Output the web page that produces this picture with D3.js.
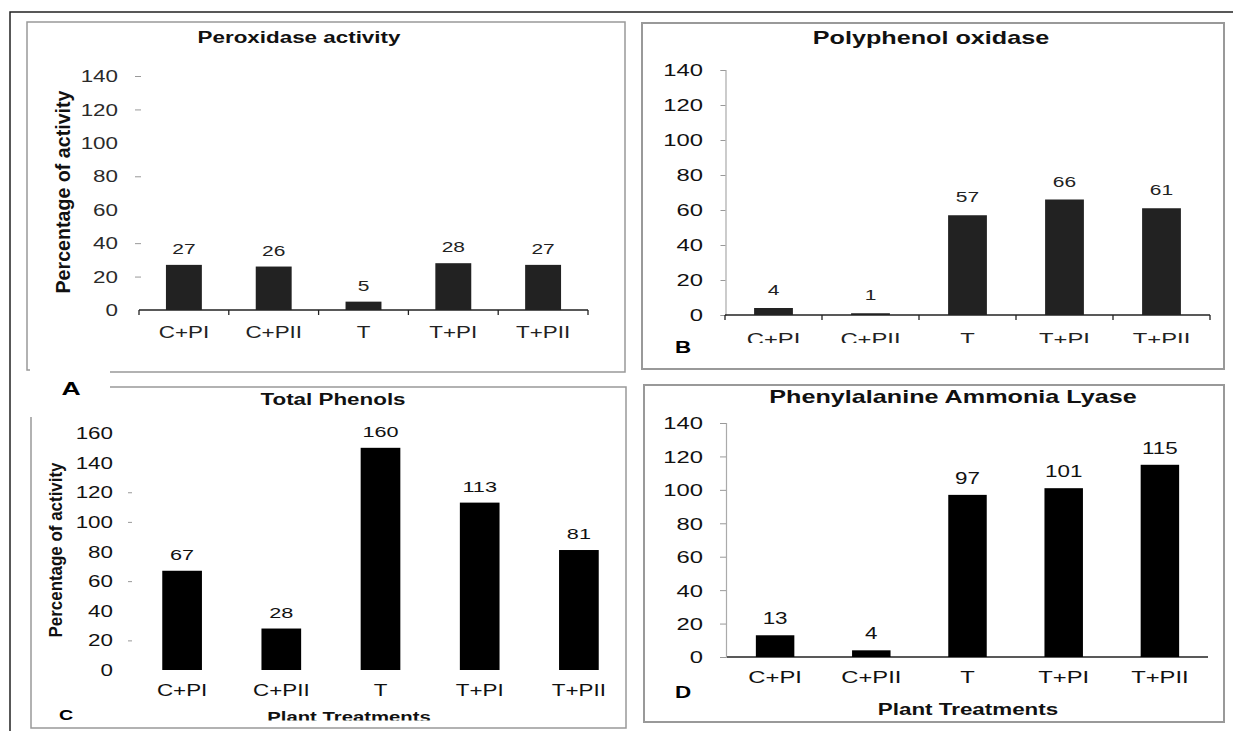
<!DOCTYPE html>
<html>
<head>
<meta charset="utf-8">
<script src="https://cdn.jsdelivr.net/npm/d3@7"></script>
<style>
  body { margin: 0; background: #fff; }
  svg { display: block; }
  text { font-family: "Liberation Sans", Arial, sans-serif; }
</style>
</head>
<body>
<svg id="chart" width="1233" height="731"></svg>
<script>
// ---- data ----
const categories = ['C+PI', 'C+PII', 'T', 'T+PI', 'T+PII'];
const peroxidase = [27, 26, 5, 28, 27];
const polyphenol = [4, 1, 57, 66, 61];
const phenols = [67, 28, 150, 113, 81];          // bar heights as drawn
const phenolLabels = ['67', '28', '160', '113', '81']; // printed values
const pal = [13, 4, 97, 101, 115];
const ticks140 = [0, 20, 40, 60, 80, 100, 120, 140];
const ticks160 = [0, 20, 40, 60, 80, 100, 120, 140, 160];
const dashA = [20, 40, 80, 120, 140];   // ticks that show a dash in panel A
const dashC = [20, 60, 100, 120];       // same for panel C

const K = 1.4; // the scanned figure is stretched sideways, text included
const svg = d3.select('#chart');

// text helper: anchor point, then sideways stretch
function label(g, x, y, str, size, opts = {}) {
    return g.append('text')
        .attr('transform', `translate(${x},${y}) scale(${K},1)` + (opts.rotate ? ' rotate(-90)' : ''))
        .attr('text-anchor', opts.anchor || 'middle')
        .attr('font-size', size)
        .attr('font-weight', opts.bold ? 'bold' : null)
        .attr('fill', opts.color || '#111')
        .text(str);
}

// ---- frames ----
svg.append('path').attr('d', 'M10,731V12H1233')
    .attr('fill', 'none').attr('stroke', '#222').attr('stroke-width', 1.5);
svg.append('path').attr('d', 'M110,372H625V22H27V370H30')
    .attr('fill', 'none').attr('stroke', '#999').attr('stroke-width', 1.5);
svg.append('path').attr('d', 'M110,387H626V728H31V417')
    .attr('fill', 'none').attr('stroke', '#999').attr('stroke-width', 1.5);
svg.append('rect').attr('x', 642).attr('y', 23).attr('width', 582).attr('height', 346)
    .attr('fill', 'none').attr('stroke', '#999').attr('stroke-width', 2);
svg.append('rect').attr('x', 644).attr('y', 385).attr('width', 580).attr('height', 337)
    .attr('fill', 'none').attr('stroke', '#999').attr('stroke-width', 2);

// clip regions (page coordinates, used on untransformed groups)
const defs = svg.append('defs');
defs.append('clipPath').attr('id', 'clipB').append('rect')
    .attr('x', 640).attr('y', 0).attr('width', 593).attr('height', 343);
defs.append('clipPath').attr('id', 'clipC').append('rect')
    .attr('x', 30).attr('y', 380).attr('width', 600).attr('height', 340.5);

// ---- panel layouts ----
const panels = [
    {
        values: peroxidase, labels: peroxidase.map(String), max: 140, ticks: ticks140, dash: dashA,
        xr: [139, 588], yr: [310, 76], axisX: 141, tickLen: 6, tickOff: 23, yLine: false,
        tickFont: 16, tickColor: '#2a2a2a', xAxis: 'ticked', xLabelOff: 28, xFont: 16,
        valFont: 15, valOff: 11, barColor: '#222', textColor: '#222',
        title: 'Peroxidase activity', titleX: 299, titleY: 43, titleSize: 16,
        letter: 'A', letterX: 71, letterY: 395, letterSize: 19,
        ylabel: { text: 'Percentage of  activity', x: 63, y: 192, size: 15, len: 203 }
    },
    {
        values: polyphenol, labels: polyphenol.map(String), max: 140, ticks: ticks140, dash: null,
        xr: [725, 1210], yr: [315, 70], axisX: 725.5, tickLen: 5, tickOff: 22.5, yLine: true,
        tickFont: 17, tickColor: '#111', xAxis: 'ticked', xLabelOff: 30, xFont: 17, clip: 'clipB',
        valFont: 15, valOff: 13, barColor: '#222', textColor: '#222',
        title: 'Polyphenol oxidase', titleX: 931, titleY: 44, titleSize: 18,
        letter: 'B', letterX: 683, letterY: 353, letterSize: 16
    },
    {
        values: phenols, labels: phenolLabels, max: 160, ticks: ticks160, dash: dashC,
        xr: [132.5, 628.5], yr: [670, 433], axisX: 132, tickLen: 4, tickOff: 19, yLine: false,
        tickFont: 16, tickColor: '#111', xAxis: 'none', xLabelOff: 26, xFont: 16,
        valFont: 15.5, valOff: 11, barColor: '#000', textColor: '#111',
        title: 'Total Phenols', titleX: 333, titleY: 405, titleSize: 16,
        letter: 'C', letterX: 66, letterY: 720, letterSize: 14,
        xtitle: { text: 'Plant Treatments', x: 349, y: 722, size: 14.5, clip: 'clipC' },
        ylabel: { text: 'Percentage of activity', x: 55, y: 550, size: 13.5, len: 175 }
    },
    {
        values: pal, labels: pal.map(String), max: 140, ticks: ticks140, dash: null,
        xr: [727, 1208], yr: [657, 423], axisX: 726, tickLen: 6, tickOff: 23, yLine: true,
        tickFont: 17, tickColor: '#111', xAxis: 'plain', xLabelOff: 26, xFont: 17,
        valFont: 16, valOff: 11, barColor: '#000', textColor: '#111',
        title: 'Phenylalanine Ammonia Lyase', titleX: 953, titleY: 403, titleSize: 18,
        letter: 'D', letterX: 683, letterY: 698, letterSize: 16,
        xtitle: { text: 'Plant Treatments', x: 968, y: 715, size: 16 }
    }
];

panels.forEach(drawPanel);

function drawPanel(p) {
    const g = svg.append('g');

    const x = d3.scaleBand().domain(categories).range(p.xr)
        .paddingInner(0.6).paddingOuter(0.3);
    const y = d3.scaleLinear().domain([0, p.max]).range(p.yr);
    const base = y(0);

    // y axis
    const yAxis = g.append('g')
        .attr('transform', `translate(${p.axisX},0)`)
        .call(d3.axisLeft(y).tickValues(p.ticks).tickSize(p.tickLen).tickPadding(0));
    yAxis.select('.domain').attr('stroke', '#aaa').attr('stroke-width', 1.2)
        .attr('display', p.yLine ? null : 'none');
    yAxis.selectAll('.tick line').attr('stroke', '#999')
        .attr('display', d => (!p.dash || p.dash.includes(d)) ? null : 'none');
    yAxis.selectAll('.tick text')
        .attr('x', 0).attr('dy', '0.35em')
        .attr('transform', `translate(${-p.tickOff},0) scale(${K},1)`)
        .attr('font-size', p.tickFont).attr('font-family', null)
        .attr('fill', p.tickColor);

    // x axis line and boundary ticks
    if (p.xAxis !== 'none') {
        g.append('line')
            .attr('x1', p.xr[0]).attr('x2', p.xr[1])
            .attr('y1', base).attr('y2', base)
            .attr('stroke', '#222').attr('stroke-width', 1.5);
    }
    if (p.xAxis === 'ticked') {
        const edges = categories.map(c => x(c) - x.step() * 0.3).concat([p.xr[1]]);
        g.selectAll('.edge').data(edges).enter().append('line')
            .attr('x1', d => d).attr('x2', d => d)
            .attr('y1', base).attr('y2', base + 5)
            .attr('stroke', '#222').attr('stroke-width', 1.3);
    }

    // category labels (wrapper carries the clip so it stays in page coordinates)
    const labelWrap = g.append('g');
    if (p.clip) labelWrap.attr('clip-path', `url(#${p.clip})`);
    const xAxis = labelWrap.append('g')
        .attr('transform', `translate(0,${base})`)
        .call(d3.axisBottom(x).tickSize(0).tickPadding(0));
    xAxis.select('.domain').remove();
    xAxis.selectAll('.tick text')
        .attr('y', 0).attr('dy', null)
        .attr('transform', `translate(0,${p.xLabelOff}) scale(${K},1)`)
        .attr('font-size', p.xFont).attr('font-family', null)
        .attr('fill', p.textColor);

    // bars
    g.selectAll('.bar').data(p.values).enter().append('rect')
        .attr('x', (d, i) => x(categories[i]))
        .attr('y', d => y(d))
        .attr('width', x.bandwidth())
        .attr('height', d => base - y(d))
        .attr('fill', p.barColor);

    // value labels
    p.values.forEach((v, i) => {
        label(g, x(categories[i]) + x.bandwidth() / 2, y(v) - p.valOff, p.labels[i], p.valFont,
            { color: p.textColor });
    });

    // titles and letters
    label(g, p.titleX, p.titleY, p.title, p.titleSize, { bold: true, color: '#111' });
    label(g, p.letterX, p.letterY, p.letter, p.letterSize, { bold: true, color: '#000' });

    if (p.xtitle) {
        const holder = g.append('g');
        if (p.xtitle.clip) holder.attr('clip-path', `url(#${p.xtitle.clip})`);
        label(holder, p.xtitle.x, p.xtitle.y, p.xtitle.text, p.xtitle.size, { bold: true, color: '#111' });
    }
    if (p.ylabel) {
        label(g, p.ylabel.x, p.ylabel.y, p.ylabel.text, p.ylabel.size, { bold: true, rotate: true, color: '#111' })
            .attr('dy', '0.35em')
            .attr('textLength', p.ylabel.len)
            .attr('lengthAdjust', 'spacingAndGlyphs');
    }
}
</script>
</body>
</html>
